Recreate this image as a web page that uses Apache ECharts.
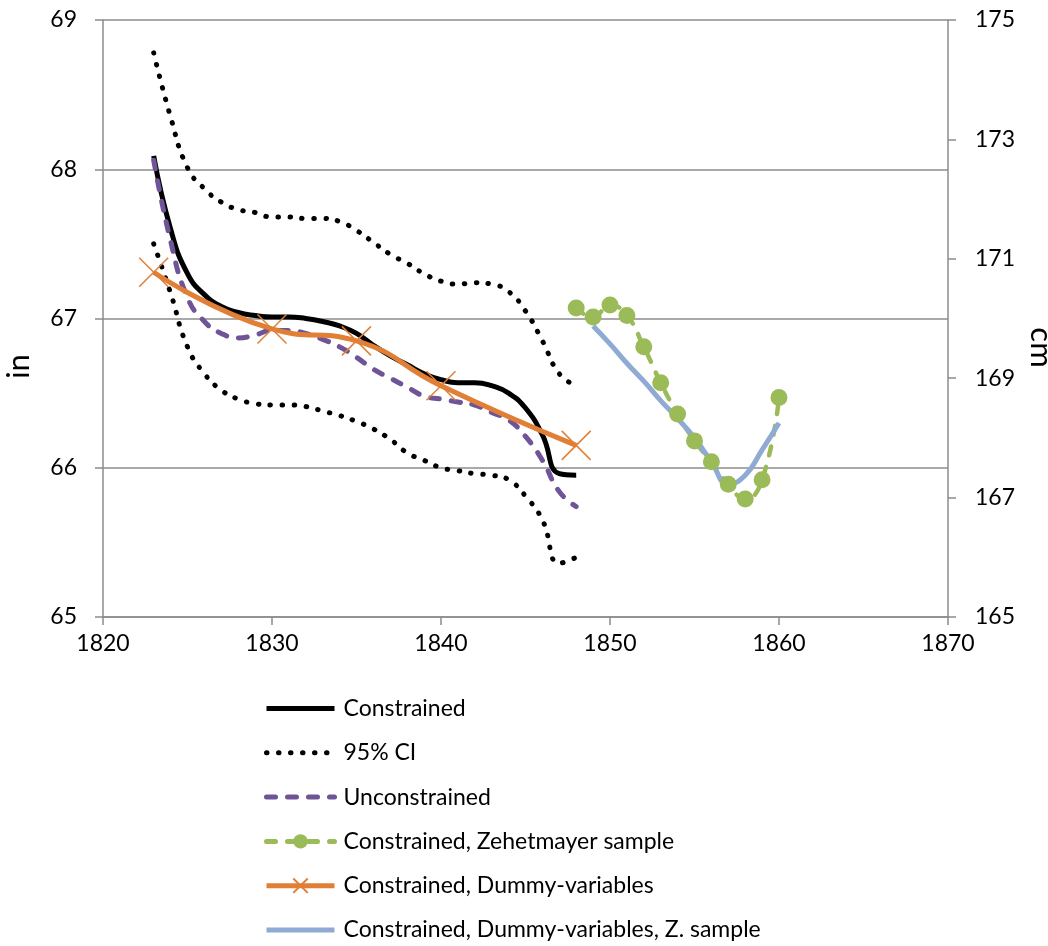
<!DOCTYPE html>
<html>
<head>
<meta charset="utf-8">
<script src="https://cdn.jsdelivr.net/npm/echarts@6/dist/echarts.min.js"></script>
<style>
  html, body { margin: 0; padding: 0; background: #fff; }
  #chart { width: 1048px; height: 946px; }
</style>
</head>
<body>
<div id="chart"></div>
<script>
// years of the main model
const years = [1823, 1824, 1825, 1826, 1827, 1828, 1829, 1830, 1831, 1832, 1833, 1834, 1835,
  1836, 1837, 1838, 1839, 1840, 1841, 1842, 1843, 1844, 1845, 1846, 1847, 1848]
const constrained = [68.09, 67.60, 67.30, 67.16, 67.08, 67.04, 67.02, 67.01, 67.01, 67.0, 66.98, 66.95, 66.90,
  66.82, 66.75, 66.69, 66.63, 66.59, 66.57, 66.57, 66.55, 66.50, 66.40, 66.22, 65.96, 65.95]
const ciUpper = [68.78, 68.35, 68.01, 67.87, 67.78, 67.73, 67.71, 67.68, 67.68, 67.67, 67.67, 67.65, 67.59,
  67.51, 67.43, 67.37, 67.30, 67.25, 67.23, 67.24, 67.23, 67.18, 67.05, 66.85, 66.63, 66.55]
const ciLower = [67.50, 67.17, 66.81, 66.63, 66.52, 66.46, 66.43, 66.42, 66.42, 66.41, 66.38, 66.35, 66.31,
  66.26, 66.19, 66.10, 66.05, 66.00, 65.98, 65.96, 65.95, 65.92, 65.81, 65.65, 65.36, 65.40]
const unconstrained = [68.06, 67.52, 67.14, 66.98, 66.90, 66.87, 66.89, 66.92, 66.92, 66.90, 66.86, 66.81, 66.74,
  66.66, 66.60, 66.54, 66.48, 66.46, 66.44, 66.42, 66.37, 66.32, 66.21, 66.05, 65.84, 65.74]

// Zehetmayer sample
const zehetYears = [1848, 1849, 1850, 1851, 1852, 1853, 1854, 1855, 1856, 1857, 1858, 1859, 1860]
const zehet = [67.07, 67.01, 67.09, 67.02, 66.81, 66.57, 66.36, 66.18, 66.04, 65.89, 65.79, 65.92, 66.47]

// dummy-variables model
const dummyYears = [1823, 1830, 1835, 1840, 1848]
const dummy = [67.31, 66.93, 66.85, 66.55, 66.15]

// dummy-variables, Z. sample
const dummyZYears = [1849, 1850, 1851, 1852, 1853, 1854, 1855, 1856, 1857, 1858, 1859, 1860]
const dummyZ = [66.95, 66.83, 66.70, 66.58, 66.45, 66.33, 66.20, 66.04, 65.89, 65.95, 66.12, 66.30]

const xTicks = { min: 1820, max: 1870, step: 10 }
const inTicks = { min: 65, max: 69, step: 1 }
const cmTicks = { min: 165, max: 175, step: 2 }

function pairs (xs, ys) {
  return xs.map((x, i) => [x, ys[i]])
}

const FONT = 'Lato'
const axisGray = '#8c8c8c'
const xMark = 'path://M0,0L10,10M10,0L0,10'
// empty marker: keeps the legend icon a plain line
const noMark = 'path://M0,0L1,1'
const dots = [0.5, 11.5]
const dashes = [9, 12]

const chart = echarts.init(document.getElementById('chart'))
const option = {
  animation: false,
  textStyle: { fontFamily: FONT, color: '#000' },
  grid: { left: 103, right: 100, top: 20, bottom: 329, containLabel: false, outerBoundsMode: 'none' },
  legend: {
    orient: 'vertical',
    left: 264,
    top: 697,
    padding: 0,
    itemWidth: 68,
    itemHeight: 18,
    itemGap: 21.3,
    lineStyle: { width: 5 },
    textStyle: { fontFamily: FONT, fontSize: 23, color: '#000', padding: [0, 0, 0, 4] },
    data: ['Constrained', '95% CI', 'Unconstrained', 'Constrained, Zehetmayer sample',
      'Constrained, Dummy-variables', 'Constrained, Dummy-variables, Z. sample']
  },
  xAxis: {
    type: 'value',
    min: xTicks.min,
    max: xTicks.max,
    interval: xTicks.step,
    axisLine: { lineStyle: { color: axisGray, width: 1.5 } },
    axisTick: { show: true, length: 8, lineStyle: { color: axisGray, width: 1.5 } },
    axisLabel: { fontSize: 23, color: '#000', margin: 15, formatter: v => String(v) },
    splitLine: { show: false }
  },
  yAxis: [{
    type: 'value',
    min: inTicks.min,
    max: inTicks.max,
    interval: inTicks.step,
    name: 'in',
    nameLocation: 'middle',
    nameGap: 69,
    nameRotate: 90,
    nameTextStyle: { fontSize: 31, color: '#000', padding: [0, 96, 0, 0] },
    axisLine: { show: true, lineStyle: { color: axisGray, width: 1.5 } },
    axisTick: { show: true, length: 8, lineStyle: { color: axisGray, width: 1.5 } },
    axisLabel: { fontSize: 23, color: '#000', margin: 26 },
    splitLine: { show: true, lineStyle: { color: axisGray, width: 1.5 } }
  }, {
    type: 'value',
    position: 'right',
    min: cmTicks.min,
    max: cmTicks.max,
    interval: cmTicks.step,
    name: 'cm',
    nameLocation: 'middle',
    nameGap: 48,
    nameRotate: -90,
    nameTextStyle: { fontSize: 31, color: '#000', padding: [0, 0, 0, 58] },
    axisLine: { show: true, lineStyle: { color: axisGray, width: 1.5 } },
    axisTick: { show: true, length: 8, lineStyle: { color: axisGray, width: 1.5 } },
    axisLabel: { fontSize: 23, color: '#000', margin: 27 },
    splitLine: { show: false }
  }],
  series: [{
    name: 'Constrained',
    type: 'line',
    smooth: 0.5,
    symbol: noMark,
    showSymbol: false,
    data: pairs(years, constrained),
    itemStyle: { color: '#000', borderWidth: 0 },
    lineStyle: { color: '#000', width: 5 }
  }, {
    name: '95% CI',
    type: 'line',
    smooth: 0.5,
    symbol: noMark,
    showSymbol: false,
    data: pairs(years, ciUpper),
    itemStyle: { color: '#000', borderWidth: 0 },
    lineStyle: { color: '#000', width: 5, type: dots, cap: 'round' }
  }, {
    name: '95% CI',
    type: 'line',
    smooth: 0.5,
    symbol: noMark,
    showSymbol: false,
    data: pairs(years, ciLower),
    itemStyle: { color: '#000', borderWidth: 0 },
    lineStyle: { color: '#000', width: 5, type: dots, cap: 'round' }
  }, {
    name: 'Unconstrained',
    type: 'line',
    smooth: 0.5,
    symbol: noMark,
    showSymbol: false,
    data: pairs(years, unconstrained),
    itemStyle: { color: '#6f5597', borderWidth: 0 },
    lineStyle: { color: '#6f5597', width: 5, type: dashes, cap: 'round' }
  }, {
    name: 'Constrained, Zehetmayer sample',
    type: 'line',
    smooth: 0.5,
    symbol: 'circle',
    symbolSize: 17,
    data: pairs(zehetYears, zehet),
    itemStyle: { color: '#9bbb59', borderWidth: 0 },
    lineStyle: { color: '#9bbb59', width: 4.5, type: dashes, cap: 'round' }
  }, {
    name: 'Constrained, Dummy-variables',
    type: 'line',
    smooth: 0.5,
    symbol: xMark,
    symbolSize: 29,
    data: pairs(dummyYears, dummy),
    itemStyle: { color: '#e07f35', borderColor: '#e07f35', borderWidth: 1.5 },
    lineStyle: { color: '#e07f35', width: 5 }
  }, {
    name: 'Constrained, Dummy-variables, Z. sample',
    type: 'line',
    smooth: 0.5,
    symbol: noMark,
    showSymbol: false,
    data: pairs(dummyZYears, dummyZ),
    itemStyle: { color: '#8faad3', borderWidth: 0 },
    lineStyle: { color: '#8faad3', width: 5 }
  }]
}
chart.setOption(option)
</script>
</body>
</html>
